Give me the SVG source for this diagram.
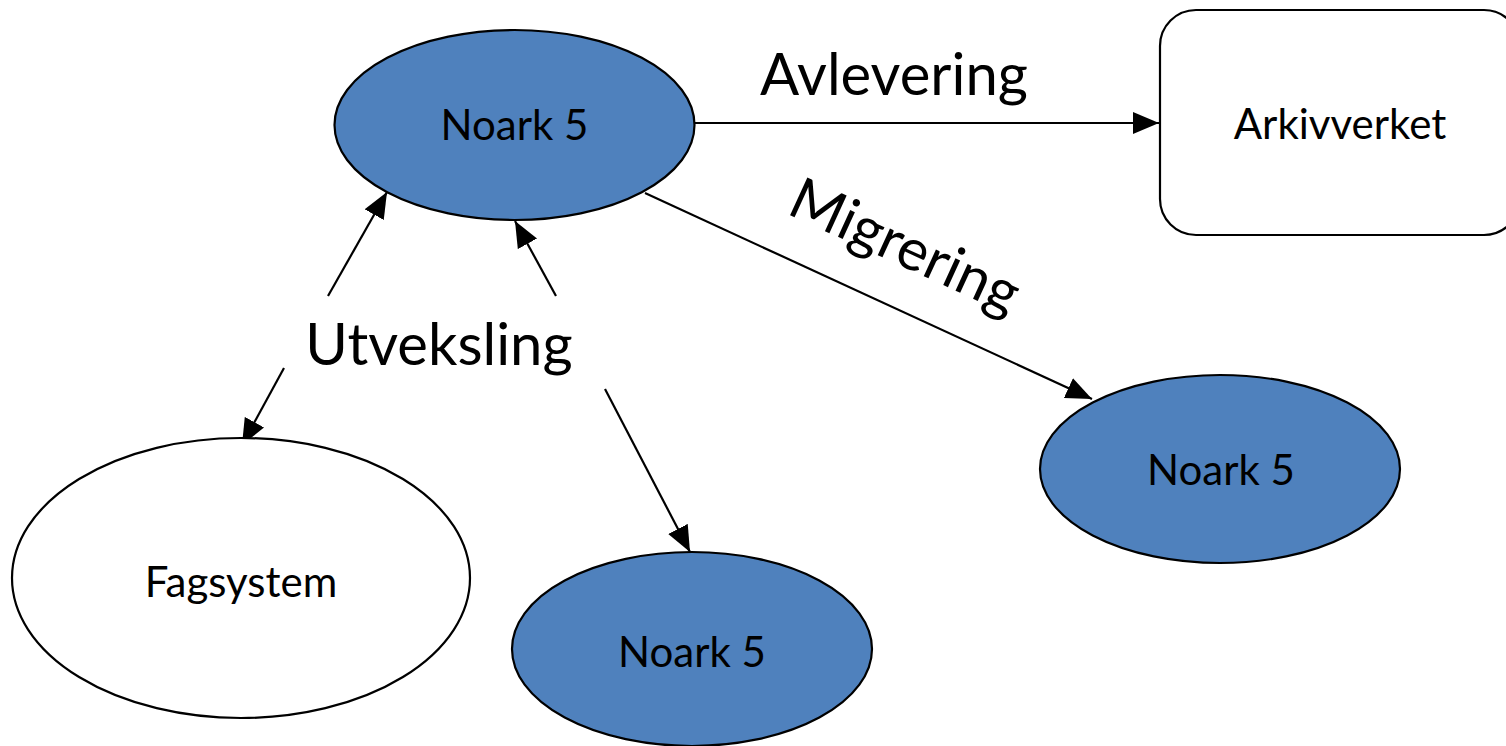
<svg xmlns="http://www.w3.org/2000/svg" width="1506" height="746" viewBox="0 0 1506 746">
<style>
.node{stroke:#000;stroke-width:2.2}
.blue{fill:#4F81BD}
.white{fill:#fff}
.t{font-family:Lato,"Open Sans",sans-serif;fill:#000;text-anchor:middle}
.n{font-size:42px}
.lbl{font-size:58px}
.edge{stroke:#000;stroke-width:2.2;fill:none;marker-end:url(#ah)}
</style>
<defs>
<marker id="ah" viewBox="0 0 26 22" refX="26" refY="11" markerWidth="26" markerHeight="22" orient="auto" markerUnits="userSpaceOnUse">
<path d="M0,0 L26,11 L0,22 Z" fill="#000"/>
</marker>
</defs>
<rect width="1506" height="746" fill="#fff"/>
<g id="connectors">
<line class="edge" x1="695" y1="123" x2="1159" y2="123"/>
<line class="edge" x1="645" y1="193" x2="1092" y2="399"/>
<line class="edge" x1="328" y1="296" x2="387" y2="192"/>
<line class="edge" x1="556" y1="296" x2="515" y2="221"/>
<line class="edge" x1="284" y1="368" x2="242" y2="445"/>
<line class="edge" x1="605" y1="389" x2="690" y2="552"/>
</g>
<g id="label-avlevering"><text class="t lbl" x="894" y="95">Avlevering</text></g>
<g id="label-migrering"><text class="t lbl" transform="translate(897,264) rotate(24.6)">Migrering</text></g>
<g id="label-utveksling"><text class="t lbl" x="439" y="365">Utveksling</text></g>
<g id="node-noark-top">
<ellipse class="node blue" cx="514.5" cy="125" rx="180" ry="95"/>
<text class="t n" x="514.5" y="140">Noark 5</text>
</g>
<g id="node-arkivverket">
<rect class="node white" x="1160" y="10" width="360" height="225" rx="36" ry="36"/>
<text class="t n" x="1340" y="139">Arkivverket</text>
</g>
<g id="node-noark-right">
<ellipse class="node blue" cx="1220" cy="469" rx="180" ry="94"/>
<text class="t n" x="1221" y="485">Noark 5</text>
</g>
<g id="node-fagsystem">
<ellipse class="node white" cx="241" cy="578" rx="229" ry="140"/>
<text class="t n" x="241" y="597">Fagsystem</text>
</g>
<g id="node-noark-bottom">
<ellipse class="node blue" cx="692" cy="649" rx="180" ry="97"/>
<text class="t n" x="692" y="667">Noark 5</text>
</g>
</svg>
